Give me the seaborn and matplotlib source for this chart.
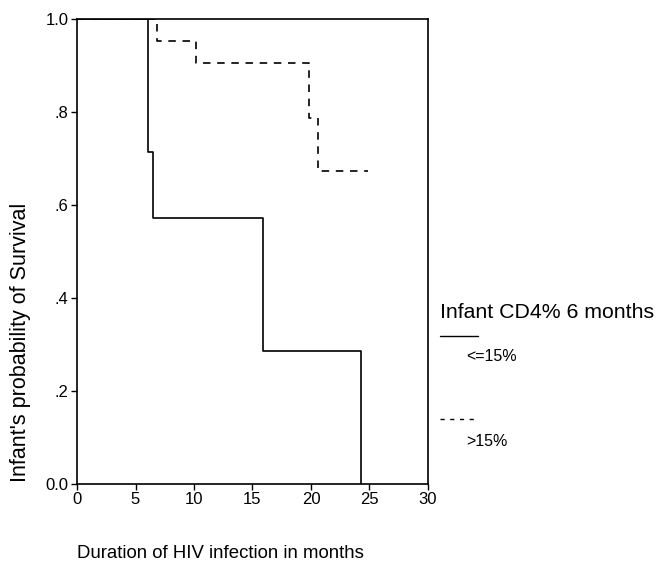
import matplotlib
matplotlib.use("Agg")
import matplotlib.pyplot as plt
import seaborn as sns
import pandas as pd
from matplotlib.lines import Line2D

sns.set_theme(style="ticks")
plt.rcParams['font.family'] = ['Liberation Sans', 'DejaVu Sans']

# Kaplan-Meier step data
low_times = [0, 6.1, 6.5, 15.9, 24.3]
low_surv = [1.0, 0.714, 0.571, 0.286, 0.0]
high_times = [0, 6.8, 10.2, 19.8, 20.6, 24.9]
high_surv = [1.0, 0.952, 0.905, 0.786, 0.674, 0.674]
group_labels = ["<=15%", ">15%"]
y_ticks = [0.0, 0.2, 0.4, 0.6, 0.8, 1.0]
y_tick_labels = ["0.0", ".2", ".4", ".6", ".8", "1.0"]
x_ticks = [0, 5, 10, 15, 20, 25, 30]

df = pd.concat([
    pd.DataFrame({"time": low_times, "surv": low_surv, "group": group_labels[0]}),
    pd.DataFrame({"time": high_times, "surv": high_surv, "group": group_labels[1]}),
])

fig = plt.figure(figsize=(6.56, 5.63), dpi=100)
ax = fig.add_axes([0.1174, 0.1403, 0.535, 0.826])

for grp, ls in zip(group_labels, ["-", (0, (4.5, 4))]):
    sub = df[df["group"] == grp]
    sns.lineplot(data=sub, x="time", y="surv", ax=ax, color="black",
                 drawstyle="steps-post", linewidth=1.2, linestyle=ls,
                 estimator=None, sort=False, legend=False)

ax.set_xlim(0, 30)
ax.set_ylim(0, 1.0)
ax.set_xticks(x_ticks)
ax.set_xticklabels([str(t) for t in x_ticks])
ax.set_yticks(y_ticks)
ax.set_yticklabels(y_tick_labels)
ax.tick_params(axis="both", direction="out", length=4, width=1, color="black",
               labelsize=12, labelcolor="black", pad=2)
for s in ax.spines.values():
    s.set_visible(True)
    s.set_color("black")
    s.set_linewidth(1.2)
ax.set_xlabel("")
ax.set_ylabel("")
fig.text(0.031, 0.3925, "Infant's probability of Survival", fontsize=15.5,
         rotation=90, ha="center", va="center", color="black")
fig.text(0.118, 0.008, "Duration of HIV infection in months", fontsize=13.4,
         ha="left", va="baseline", color="black")

# Legend outside the axes
fig.text(0.670, 0.435, "Infant CD4% 6 months", fontsize=15.3, ha="left",
         va="baseline", color="black")
fig.add_artist(Line2D([0.671, 0.728], [0.403, 0.403], color="black", lw=1.0,
                      transform=fig.transFigure))
fig.text(0.711, 0.366, group_labels[0], fontsize=11.5, ha="left", va="center",
         color="black")
fig.add_artist(Line2D([0.671, 0.729], [0.255, 0.255], color="black", lw=1.0,
                      linestyle=(0, (3, 4)), transform=fig.transFigure))
fig.text(0.711, 0.215, group_labels[1], fontsize=11.5, ha="left", va="center",
         color="black")

fig.savefig("out.png", dpi=100)
